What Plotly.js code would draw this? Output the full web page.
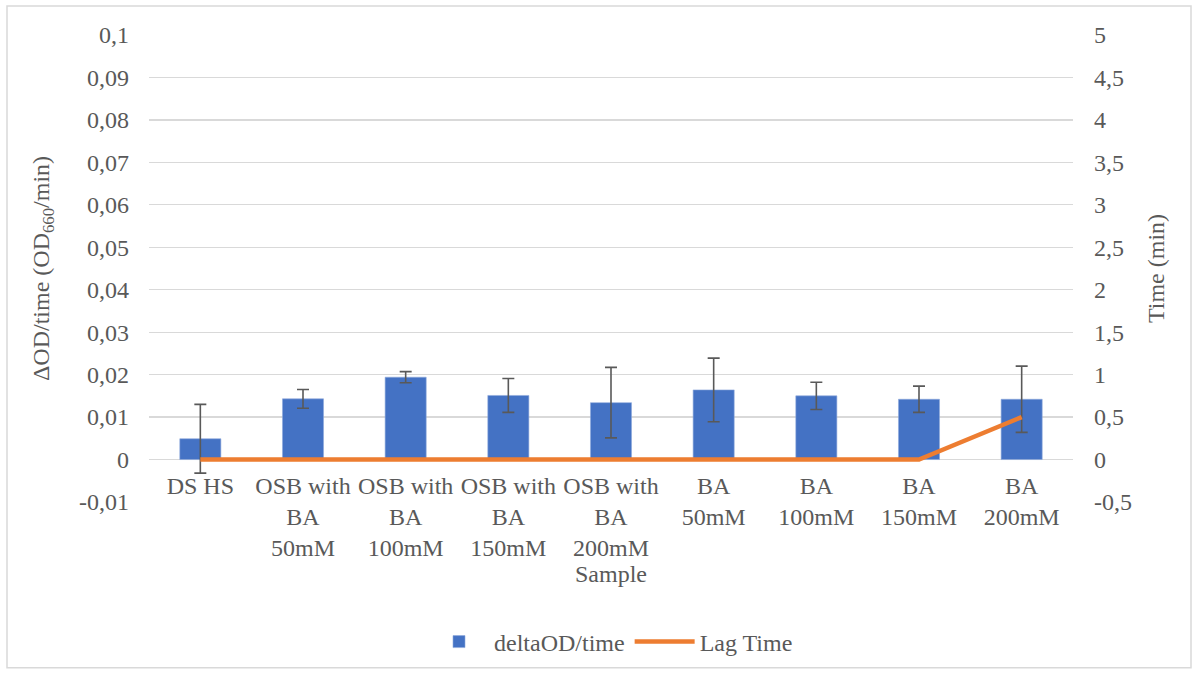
<!DOCTYPE html>
<html>
<head>
<meta charset="utf-8">
<script src="https://cdn.plot.ly/plotly-3.0.1.min.js"></script>
<style>html,body{margin:0;padding:0;background:#fff;}#chart{width:1199px;height:675px;}</style>
</head>
<body>
<div id="chart"></div>
<script>
const categories = ["DS HS", "OSB with BA 50mM", "OSB with BA 100mM", "OSB with BA 150mM", "OSB with BA 200mM", "BA 50mM", "BA 100mM", "BA 150mM", "BA 200mM"];
const tickLabels = ["DS HS", "OSB with<br>BA<br>50mM", "OSB with<br>BA<br>100mM", "OSB with<br>BA<br>150mM", "OSB with<br>BA<br>200mM", "BA<br>50mM", "BA<br>100mM", "BA<br>150mM", "BA<br>200mM"];
const deltaOD = [0.0049, 0.0143, 0.0194, 0.0151, 0.0134, 0.0164, 0.0150, 0.0142, 0.0142];
const deltaODErr = [0.0081, 0.0022, 0.0013, 0.0040, 0.0083, 0.0075, 0.0032, 0.0031, 0.0078];
const lagTime = [0, 0, 0, 0, 0, 0, 0, 0, 0.5];
const leftTickVals = [-0.01, 0, 0.01, 0.02, 0.03, 0.04, 0.05, 0.06, 0.07, 0.08, 0.09, 0.1];
const leftTickText = ["-0,01", "0", "0,01", "0,02", "0,03", "0,04", "0,05", "0,06", "0,07", "0,08", "0,09", "0,1"];
const rightTickVals = [-0.5, 0, 0.5, 1, 1.5, 2, 2.5, 3, 3.5, 4, 4.5, 5];
const rightTickText = ["-0,5", "0", "0,5", "1", "1,5", "2", "2,5", "3", "3,5", "4", "4,5", "5"];

const fontFam = '"Liberation Serif", "DejaVu Serif", serif';
const grey = '#595959';
const f = (s) => ({family: fontFam, size: s, color: grey});

const traces = [
  {
    type: 'bar', name: 'deltaOD/time', x: categories, y: deltaOD,
    marker: {color: '#4472c4', line: {color: '#8faadc', width: 0.6}},
    width: 0.4,
    error_y: {type: 'data', array: deltaODErr, visible: true, color: grey, thickness: 1.6, width: 6}
  },
  {
    type: 'scatter', mode: 'lines', name: 'Lag Time', x: categories, y: lagTime, yaxis: 'y2',
    line: {color: '#ed7d31', width: 4.5}
  }
];

const L = 149, R = 126, T = 35, B = 172, W = 1199, H = 675;
const pw = W - L - R, ph = H - T - B;
const px = v => (v - L) / pw;
const py = v => (H - B - v) / ph;

const layout = {
  width: W, height: H,
  margin: {l: L, r: R, t: T, b: B},
  paper_bgcolor: '#fff', plot_bgcolor: '#fff',
  separators: ',.',
  font: f(24),
  showlegend: true,
  legend: {orientation: 'h', x: 0.5, xanchor: 'center', y: py(642), yanchor: 'middle', font: f(24), itemwidth: 60, traceorder: 'normal'},
  xaxis: {
    type: 'category', tickvals: categories, ticktext: tickLabels,
    anchor: 'free', position: 0.01 / 0.11,
    showgrid: false, zeroline: false, showline: false, ticks: '',
    ticklabelstandoff: 9,
    tickfont: f(24),
    title: {text: 'Sample', font: f(24), standoff: 3},
    automargin: false, tickangle: 0
  },
  yaxis: {
    range: [-0.01, 0.1], tickvals: leftTickVals, ticktext: leftTickText,
    showgrid: true, gridcolor: '#d9d9d9', gridwidth: 1.3,
    zeroline: true, zerolinecolor: '#d9d9d9', zerolinewidth: 1.3,
    showline: false, ticks: '', ticklabelstandoff: 19,
    tickfont: f(24),
    title: {text: 'ΔOD/time (OD<sub>660</sub>/min)', font: f(24), standoff: 22},
    automargin: false
  },
  yaxis2: {
    overlaying: 'y', side: 'right', range: [-0.5, 5], tickvals: rightTickVals, ticktext: rightTickText,
    showgrid: false, zeroline: false, showline: false, ticks: '', ticklabelstandoff: 20,
    tickfont: f(24),
    title: {text: 'Time (min)', font: f(24), standoff: 16},
    automargin: false
  },
  shapes: [{
    type: 'rect', xref: 'paper', yref: 'paper',
    x0: px(7), x1: px(1191), y0: py(669), y1: py(6),
    line: {color: '#d9d9d9', width: 1.5}, fillcolor: 'rgba(0,0,0,0)', layer: 'below'
  }]
};

Plotly.newPlot('chart', traces, layout, {displayModeBar: false, staticPlot: true});
</script>
</body>
</html>
